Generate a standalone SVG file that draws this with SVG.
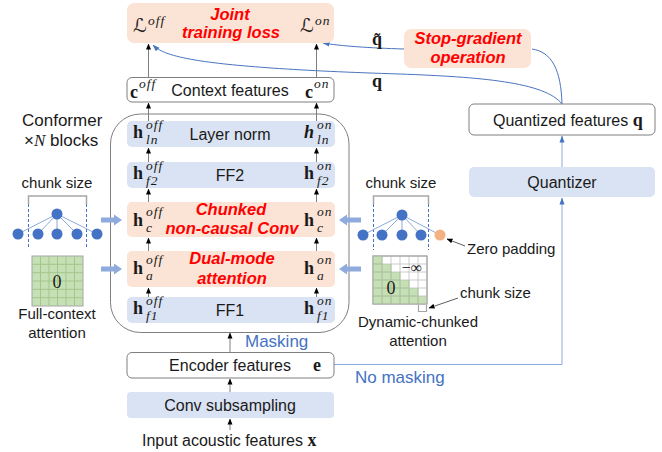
<svg xmlns="http://www.w3.org/2000/svg" width="662" height="452" viewBox="0 0 662 452">
<style>
.t{font-family:"Liberation Sans",Arial,sans-serif;font-size:16px;fill:#1a1a1a}
.s{font-family:"Liberation Sans",Arial,sans-serif;font-size:15px;fill:#1a1a1a}
.r{font-family:"Liberation Sans",Arial,sans-serif;font-size:16.5px;font-weight:bold;font-style:italic;fill:#ff0000}
.bl{font-family:"Liberation Sans",Arial,sans-serif;font-size:17px;fill:#4472c4}
.mb{font-family:"Liberation Serif","Times New Roman",serif;font-size:18px;font-weight:bold;fill:#1a1a1a}
.mi{font-family:"Liberation Serif","Times New Roman",serif;font-size:13.5px;font-style:italic;fill:#1a1a1a;letter-spacing:1px}
.L{font-family:"DejaVu Serif","DejaVu Sans",serif;font-size:19px;font-style:italic;fill:#1a1a1a}
.pe{fill:#fbe3d5}
.bu{fill:#dae3f3}
.wb{fill:#fff;stroke:#7f7f7f;stroke-width:1}
.ar{stroke:#7f7f7f;stroke-width:1;fill:none}
.cv{stroke:#4a74c0;stroke-width:1;fill:none}
.lb{stroke:#8ea9db;stroke-width:1;fill:none}
.nd{fill:#4472c4}
.ed{stroke:#8ea9db;stroke-width:1}
.ds{stroke:#4472c4;stroke-width:1;stroke-dasharray:3,2}
.bk{stroke:#a6a6a6;stroke-width:1.5;fill:none}
.ba{fill:#8faadc}
</style>
<defs>
<marker id="ak" markerUnits="userSpaceOnUse" markerWidth="6" markerHeight="6" refX="5.5" refY="3" orient="auto"><path d="M0,0.5 L6,3 L0,5.5 z" fill="#000"/></marker>
<marker id="ab" markerUnits="userSpaceOnUse" markerWidth="7" markerHeight="6" refX="6.5" refY="3" orient="auto"><path d="M0,0.5 L7,3 L0,5.5 z" fill="#4472c4"/></marker>
</defs>

<g id="connectors">
<line class="ar" x1="148.5" y1="77" x2="148.5" y2="44" marker-end="url(#ak)"/>
<line class="ar" x1="316.5" y1="77" x2="316.5" y2="44" marker-end="url(#ak)"/>
<line class="ar" x1="148.5" y1="121" x2="148.5" y2="103" marker-end="url(#ak)"/>
<line class="ar" x1="316.5" y1="121" x2="316.5" y2="103" marker-end="url(#ak)"/>
<line class="ar" x1="148.5" y1="162" x2="148.5" y2="148" marker-end="url(#ak)"/>
<line class="ar" x1="316.5" y1="162" x2="316.5" y2="148" marker-end="url(#ak)"/>
<line class="ar" x1="148.5" y1="202" x2="148.5" y2="189" marker-end="url(#ak)"/>
<line class="ar" x1="316.5" y1="202" x2="316.5" y2="189" marker-end="url(#ak)"/>
<line class="ar" x1="148.5" y1="251" x2="148.5" y2="238" marker-end="url(#ak)"/>
<line class="ar" x1="316.5" y1="251" x2="316.5" y2="238" marker-end="url(#ak)"/>
<line class="ar" x1="148.5" y1="297" x2="148.5" y2="288" marker-end="url(#ak)"/>
<line class="ar" x1="316.5" y1="297" x2="316.5" y2="288" marker-end="url(#ak)"/>
<line class="ar" x1="230" y1="352" x2="230" y2="333" marker-end="url(#ak)"/>
<line class="ar" x1="230" y1="392" x2="230" y2="379" marker-end="url(#ak)"/>
<line class="ar" x1="230" y1="430" x2="230" y2="419" marker-end="url(#ak)"/>
<path class="lb" d="M334,364.5 H562 V198" marker-end="url(#ab)"/>
<line class="lb" x1="562" y1="167" x2="562" y2="136" marker-end="url(#ab)"/>
<path class="cv" d="M562,104 C545,82 480,77 400,74 C300,71 230,66 195,60 C172,56 160,52 153,45" marker-end="url(#ab)"/>
<path class="cv" d="M562,104 C561,70 552,52 532,49"/>
<path class="cv" d="M404,49 C370,48 340,46 323,43" marker-end="url(#ab)"/>
<text class="mb" x="372" y="45">q̃</text>
<text class="mb" x="372" y="87">q</text>
</g>

<g id="loss">
<rect class="pe" x="127" y="3" width="207" height="40" rx="7"/>
<text class="r" x="230" y="20" text-anchor="middle">Joint</text>
<text class="r" x="231" y="38" text-anchor="middle">training loss</text>
<text class="L" x="133" y="32">ℒ</text><text class="mi" x="148" y="25">off</text>
<text class="L" x="300" y="32">ℒ</text><text class="mi" x="315" y="25">on</text>
</g>

<g id="context">
<rect class="wb" x="127" y="77.5" width="207" height="24.5" rx="5"/>
<text class="t" x="230" y="96" text-anchor="middle">Context features</text>
<text class="mb" x="130" y="98">c</text><text class="mi" x="139" y="88">off</text>
<text class="mb" x="305" y="98">c</text><text class="mi" x="314" y="88">on</text>
</g>

<g id="conformer">
<rect x="110.5" y="114" width="238.5" height="218.5" rx="30" fill="none" stroke="#7f7f7f" stroke-width="1"/>
<text class="t" x="22" y="126" style="font-size:17px">Conformer</text>
<text class="t" x="24" y="146" style="font-size:17px">×<tspan font-family="Liberation Serif" font-style="italic">N</tspan> blocks</text>
</g>

<g id="layernorm">
<rect class="bu" x="127" y="121" width="208" height="26" rx="5"/>
<text class="t" x="230" y="140" text-anchor="middle">Layer norm</text>
<text class="mb" x="133" y="138">h</text><text class="mi" x="146" y="129">off</text><text class="mi" x="146" y="144">ln</text>
<text class="mb" x="304" y="138" font-style="italic">h</text><text class="mi" x="317" y="129">on</text><text class="mi" x="317" y="144">ln</text>
</g>

<g id="ff2">
<rect class="bu" x="127" y="162" width="208" height="26" rx="5"/>
<text class="t" x="230" y="181" text-anchor="middle">FF2</text>
<text class="mb" x="133" y="179">h</text><text class="mi" x="146" y="170">off</text><text class="mi" x="146" y="185">f2</text>
<text class="mb" x="304" y="179">h</text><text class="mi" x="317" y="170">on</text><text class="mi" x="317" y="185">f2</text>
</g>

<g id="chunkconv">
<rect class="pe" x="127" y="202" width="208" height="35" rx="5"/>
<text class="r" x="231" y="215" text-anchor="middle">Chunked</text>
<text class="r" x="232" y="234" text-anchor="middle">non-causal Conv</text>
<text class="mb" x="133" y="226">h</text><text class="mi" x="146" y="216">off</text><text class="mi" x="146" y="232">c</text>
<text class="mb" x="304" y="226">h</text><text class="mi" x="317" y="216">on</text><text class="mi" x="317" y="232">c</text>
</g>

<g id="dualattn">
<rect class="pe" x="127" y="251" width="208" height="36" rx="5"/>
<text class="r" x="232" y="264" text-anchor="middle">Dual-mode</text>
<text class="r" x="232" y="284" text-anchor="middle">attention</text>
<text class="mb" x="133" y="274">h</text><text class="mi" x="146" y="264">off</text><text class="mi" x="146" y="280">a</text>
<text class="mb" x="304" y="274">h</text><text class="mi" x="317" y="264">on</text><text class="mi" x="317" y="280">a</text>
</g>

<g id="ff1">
<rect class="bu" x="127" y="297" width="208" height="26" rx="5"/>
<text class="t" x="230" y="316" text-anchor="middle">FF1</text>
<text class="mb" x="133" y="314">h</text><text class="mi" x="146" y="305">off</text><text class="mi" x="146" y="320">f1</text>
<text class="mb" x="304" y="314">h</text><text class="mi" x="317" y="305">on</text><text class="mi" x="317" y="320">f1</text>
</g>

<g id="masking">
<text class="bl" x="245" y="347">Masking</text>
<text class="bl" x="355" y="383">No masking</text>
</g>

<g id="encoder">
<rect class="wb" x="127" y="352.5" width="207" height="25.5" rx="5"/>
<text class="t" x="230" y="371" text-anchor="middle">Encoder features</text>
<text class="mb" x="313" y="371">e</text>
</g>

<g id="convsub">
<rect class="bu" x="127" y="392" width="207" height="26" rx="4"/>
<text class="t" x="230" y="411" text-anchor="middle">Conv subsampling</text>
</g>

<g id="input">
<text class="t" x="142" y="446">Input acoustic features <tspan class="mb">x</tspan></text>
</g>

<g id="quantized">
<rect class="wb" x="469" y="104" width="186" height="31" rx="5"/>
<text class="t" x="493" y="126">Quantized features <tspan class="mb">q</tspan></text>
</g>

<g id="quantizer">
<rect class="bu" x="469" y="167" width="186" height="30" rx="5"/>
<text class="t" x="562" y="188" text-anchor="middle">Quantizer</text>
</g>

<g id="stopgrad">
<rect class="pe" x="404" y="29" width="127" height="39" rx="7"/>
<text class="r" x="468" y="44" text-anchor="middle">Stop-gradient</text>
<text class="r" x="468" y="63" text-anchor="middle">operation</text>
</g>

<g id="left-inputs">
<text class="s" x="57" y="188" text-anchor="middle">chunk size</text>
<path class="bk" d="M28.5,204 V196 H86.5 V204"/>
<line class="ds" x1="28.5" y1="204" x2="28.5" y2="249"/>
<line class="ds" x1="86.5" y1="204" x2="86.5" y2="249"/>
<line class="ed" x1="57" y1="214" x2="18" y2="234"/>
<line class="ed" x1="57" y1="214" x2="38" y2="234"/>
<line class="ed" x1="57" y1="214" x2="57" y2="234"/>
<line class="ed" x1="57" y1="214" x2="77" y2="234"/>
<line class="ed" x1="57" y1="214" x2="97" y2="234"/>
<circle class="nd" cx="57" cy="214" r="5.5"/>
<circle class="nd" cx="18" cy="234" r="5.5"/>
<circle class="nd" cx="38" cy="234" r="5.5"/>
<circle class="nd" cx="57" cy="234" r="5.5"/>
<circle class="nd" cx="77" cy="234" r="5.5"/>
<circle class="nd" cx="97" cy="234" r="5.5"/>
<rect x="32" y="256" width="51" height="50" fill="#c5e0b4" stroke="#a6a6a6" stroke-width="1"/>
<path d="M40.5,256 V306 M49,256 V306 M57.5,256 V306 M66,256 V306 M74.5,256 V306 M32,264.3 H83 M32,272.7 H83 M32,281 H83 M32,289.3 H83 M32,297.7 H83" stroke="#a3c58e" stroke-width="1" fill="none"/>
<text x="57" y="288" text-anchor="middle" font-family="Liberation Serif,serif" font-size="18" fill="#1a1a1a">0</text>
<text class="s" x="57" y="319" text-anchor="middle">Full-context</text>
<text class="s" x="57" y="338" text-anchor="middle">attention</text>
<polygon class="ba" points="101,217.5 114,217.5 114,214.5 122,220 114,225.5 114,222.5 101,222.5"/>
<polygon class="ba" points="101,266.5 114,266.5 114,263.5 122,269 114,274.5 114,271.5 101,271.5"/>
</g>

<g id="right-inputs">
<polygon class="ba" points="361,217.5 347,217.5 347,214.5 339,220 347,225.5 347,222.5 361,222.5"/>
<polygon class="ba" points="361,266.5 347,266.5 347,263.5 339,269 347,274.5 347,271.5 361,271.5"/>
<text class="s" x="401" y="188" text-anchor="middle">chunk size</text>
<path class="bk" d="M373.5,204 V196 H428.5 V204"/>
<line class="ds" x1="373.5" y1="204" x2="373.5" y2="250"/>
<line class="ds" x1="428.5" y1="204" x2="428.5" y2="250"/>
<line class="ed" x1="402" y1="215" x2="363" y2="235"/>
<line class="ed" x1="402" y1="215" x2="382" y2="235"/>
<line class="ed" x1="402" y1="215" x2="402" y2="235"/>
<line class="ed" x1="402" y1="215" x2="421" y2="235"/>
<line class="ed" x1="402" y1="215" x2="440" y2="235"/>
<circle class="nd" cx="402" cy="215" r="5.5"/>
<circle class="nd" cx="363" cy="235" r="5.5"/>
<circle class="nd" cx="382" cy="235" r="5.5"/>
<circle class="nd" cx="402" cy="235" r="5.5"/>
<circle class="nd" cx="421" cy="235" r="5.5"/>
<circle cx="440" cy="235" r="5.5" fill="#f4b183"/>
<line x1="465" y1="246" x2="447" y2="239" stroke="#333" stroke-width="0.8" marker-end="url(#ak)"/>
<text class="s" x="467" y="254">Zero padding</text>
<rect x="373" y="256" width="54" height="48" fill="#fff" stroke="#a6a6a6" stroke-width="1"/>
<path d="M373,256 H382 V264 H391 V272 H400 V280 H409 V288 H418 V296 H427 V304 H373 Z" fill="#c5e0b4"/>
<path d="M382,256 V304 M391,256 V304 M400,256 V304 M409,256 V304 M418,256 V304 M373,264 H427 M373,272 H427 M373,280 H427 M373,288 H427 M373,296 H427" stroke="#bfbfbf" stroke-width="0.8" fill="none"/>
<path d="M382,256 V264 M391,264 V272 M400,272 V280 M409,280 V288 M418,288 V296 M373,264 H382 M373,272 H391 M373,280 H400 M373,288 H409 M373,296 H418 M382,264 V304 M391,272 V304 M400,280 V304 M409,288 V304 M418,296 V304" stroke="#a3c58e" stroke-width="0.8" fill="none"/>
<rect x="373" y="256" width="54" height="48" fill="none" stroke="#a6a6a6" stroke-width="1"/>
<text x="412" y="273" text-anchor="middle" font-family="Liberation Serif,serif" font-size="16" fill="#1a1a1a">−∞</text>
<text x="391" y="294" text-anchor="middle" font-family="Liberation Serif,serif" font-size="18" fill="#1a1a1a">0</text>
<path d="M418.5,305 V311.5 H426.5 V305" stroke="#a6a6a6" stroke-width="1.2" fill="none"/>
<line x1="458" y1="298" x2="429" y2="308" stroke="#333" stroke-width="0.8" marker-end="url(#ak)"/>
<text class="s" x="460" y="298">chunk size</text>
<text class="s" x="418" y="327" text-anchor="middle">Dynamic-chunked</text>
<text class="s" x="418" y="346" text-anchor="middle">attention</text>
</g>
</svg>
